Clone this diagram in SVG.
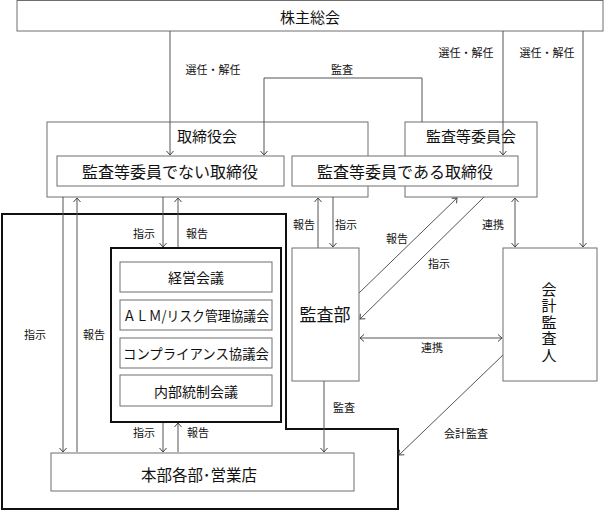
<svg xmlns="http://www.w3.org/2000/svg" width="604" height="510" viewBox="0 0 604 510">
<style>
text{font-family:"Noto Sans CJK JP","Noto Sans",sans-serif;fill:#111;text-anchor:middle;dominant-baseline:central}
.box{fill:#fff;stroke:#6e6e6e;stroke-width:1}
.thick{fill:none;stroke:#111;stroke-width:2}
.c{fill:none;stroke:#555;stroke-width:1}
.s{font-size:11px}
.m{font-size:14px}
.h{font-size:15px}
.l{font-size:16px}
.v{font-size:15px;writing-mode:vertical-rl;letter-spacing:1.5px}
</style>
<defs>
<marker id="a" viewBox="-6 -5 7 10" refX="0" refY="0" markerWidth="7" markerHeight="10" markerUnits="userSpaceOnUse" orient="auto-start-reverse">
<path d="M-4,-3.5 L0,0 L-4,3.5" fill="none" stroke="#444" stroke-width="1"/>
</marker>
</defs>
<rect width="604" height="510" fill="#fff"/>

<g id="frame">
<path class="thick" d="M2,214 H286 V429 H398 V509 H2 Z"/>
</g>

<g id="shareholders">
<rect class="box" x="17" y="0.5" width="586" height="30.5"/>
<text class="h" x="310" y="16">株主総会</text>
</g>

<g id="board">
<rect class="box" x="47" y="122" width="321" height="75"/>
<text class="h" x="207" y="135">取締役会</text>
</g>

<g id="audit-committee">
<rect class="box" x="405" y="122" width="132" height="75"/>
<text class="h" x="471" y="135">監査等委員会</text>
</g>

<g id="connectors">
<line class="c" x1="170" y1="31" x2="170" y2="155" marker-end="url(#a)"/>
<polyline class="c" points="422,122 422,78 264,78 264,155" marker-end="url(#a)"/>
<line class="c" x1="503" y1="31" x2="503" y2="155" marker-end="url(#a)"/>
<line class="c" x1="583" y1="31" x2="583" y2="247" marker-end="url(#a)"/>
<line class="c" x1="63" y1="197" x2="63" y2="452" marker-end="url(#a)"/>
<line class="c" x1="77" y1="452" x2="77" y2="198" marker-end="url(#a)"/>
<line class="c" x1="163" y1="197" x2="163" y2="247" marker-end="url(#a)"/>
<line class="c" x1="178" y1="248" x2="178" y2="198" marker-end="url(#a)"/>
<line class="c" x1="163" y1="422" x2="163" y2="452" marker-end="url(#a)"/>
<line class="c" x1="178" y1="452" x2="178" y2="423" marker-end="url(#a)"/>
<line class="c" x1="318" y1="248" x2="318" y2="198" marker-end="url(#a)"/>
<line class="c" x1="333" y1="197" x2="333" y2="247" marker-end="url(#a)"/>
<line class="c" x1="359" y1="293" x2="457" y2="198" marker-end="url(#a)"/>
<line class="c" x1="484" y1="197" x2="360" y2="319" marker-end="url(#a)"/>
<line class="c" x1="515" y1="198" x2="515" y2="247" marker-start="url(#a)" marker-end="url(#a)"/>
<line class="c" x1="360" y1="338" x2="502" y2="338" marker-start="url(#a)" marker-end="url(#a)"/>
<line class="c" x1="324" y1="381" x2="324" y2="452" marker-end="url(#a)"/>
<line class="c" x1="503" y1="355" x2="399" y2="455" marker-end="url(#a)"/>
<text class="s" x="213" y="69">選任・解任</text>
<text class="s" x="342" y="69">監査</text>
<text class="s" x="466" y="52">選任・解任</text>
<text class="s" x="547" y="52">選任・解任</text>
<text class="s" x="304" y="224">報告</text>
<text class="s" x="346" y="224">指示</text>
<text class="s" x="397" y="238">報告</text>
<text class="s" x="439" y="263">指示</text>
<text class="s" x="493" y="224">連携</text>
<text class="s" x="432" y="347">連携</text>
<text class="s" x="344" y="407">監査</text>
<text class="s" x="466" y="433">会計監査</text>
<text class="s" x="35" y="334">指示</text>
<text class="s" x="94" y="334">報告</text>
<text class="s" x="144" y="233">指示</text>
<text class="s" x="197" y="233">報告</text>
<text class="s" x="144" y="432">指示</text>
<text class="s" x="198" y="432">報告</text>
</g>

<g id="non-audit-directors">
<rect class="box" x="57" y="156" width="227" height="30"/>
<text class="l" x="170" y="171">監査等委員でない取締役</text>
</g>

<g id="audit-directors">
<rect class="box" x="292" y="156" width="226" height="30"/>
<text class="l" x="405" y="171">監査等委員である取締役</text>
</g>

<g id="committees">
<rect x="111" y="248" width="170" height="174" fill="#fff" stroke="#111" stroke-width="2"/>
</g>
<g id="keiei">
<rect class="box" x="120" y="262" width="152" height="30"/>
<text class="m" x="196" y="277">経営会議</text>
</g>
<g id="alm">
<rect class="box" x="120" y="300" width="152" height="30"/>
<text class="m" x="196" y="315" textLength="146" lengthAdjust="spacingAndGlyphs">ＡＬＭ/リスク管理協議会</text>
</g>
<g id="compliance">
<rect class="box" x="120" y="338" width="152" height="30"/>
<text class="m" x="196" y="353" textLength="146" lengthAdjust="spacingAndGlyphs">コンプライアンス協議会</text>
</g>
<g id="internal-control">
<rect class="box" x="120" y="375" width="152" height="31"/>
<text class="m" x="196" y="391">内部統制会議</text>
</g>

<g id="audit-dept">
<rect class="box" x="292" y="248" width="67" height="133"/>
<text style="font-size:17px" x="325" y="313">監査部</text>
</g>

<g id="accounting-auditor">
<rect class="box" x="503" y="248" width="94" height="133"/>
<text class="v" x="549" y="323">会計監査人</text>
</g>

<g id="branches">
<rect class="box" x="51" y="453" width="303" height="38"/>
<text class="l" x="199" y="474" textLength="116" lengthAdjust="spacingAndGlyphs">本部各部･営業店</text>
</g>
</svg>
